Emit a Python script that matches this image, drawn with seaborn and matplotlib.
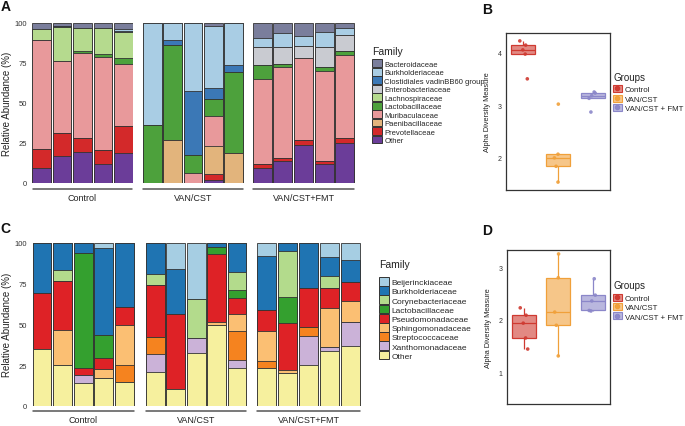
import numpy as np
import pandas as pd
import matplotlib
matplotlib.use("Agg")
import matplotlib.pyplot as plt
import seaborn as sns
from matplotlib.patches import Patch
from matplotlib.lines import Line2D

W, H = 685, 427

groups = ["Control", "VAN/CST", "VAN/CST+FMT"]

# panel A -- five mice per group: Control, VAN/CST, VAN/CST+FMT
a_families = ["Bacteroidaceae", "Burkholderiaceae", "Clostidiales vadinBB60 group",
              "Enterobacteriaceae", "Lachnospiraceae", "Lactobacillaceae",
              "Muribaculaceae", "Paenibacillaceae", "Prevotellaceae", "Other"]
a_colors = ["#7a7e9c", "#a9cde4", "#3b78b6", "#c9cbd1", "#b5da8e", "#4da13c",
            "#e8999b", "#e2b47c", "#d3292a", "#6b3d99"]
a_bacteroidaceae = [3.5, 2.0, 3.3, 3.3, 4.0, 0, 0, 0, 1.7, 0, 9.6, 6.0, 8.3, 5.4, 3.1]
a_burkholderiaceae = [0, 0, 0, 0, 0.8, 63.7, 10.8, 42.7, 38.8, 26.3, 5.6, 8.8, 5.9, 9.8, 4.4]
a_clostidiales = [0, 0.7, 0, 0, 1.0, 0, 2.7, 39.9, 7.2, 4.6, 0, 0, 0, 0, 0]
a_enterobacteriaceae = [0, 0, 0, 0, 0, 0, 0, 0, 0, 0, 10.8, 10.8, 7.9, 12.5, 9.9]
a_lachnospiraceae = [7.3, 20.8, 14.4, 16.3, 15.9, 0, 0, 0, 0, 0, 0, 0, 0, 0, 0]
a_lactobacillaceae = [0, 0, 1.3, 1.4, 3.9, 36.3, 59.5, 11.4, 10.2, 50.4, 9.2, 2.1, 0, 2.5, 2.3]
a_muribaculaceae = [68.2, 45.5, 52.7, 58.2, 38.8, 0, 0, 6.0, 18.9, 0, 52.9, 56.9, 51.2, 56.0, 51.9]
a_paenibacillaceae = [0, 0, 0, 0, 0, 0, 27.0, 0, 17.8, 18.7, 0, 0, 0, 0, 0]
a_prevotellaceae = [11.8, 13.9, 9.1, 8.9, 17.1, 0, 0, 0, 3.3, 0, 2.5, 1.9, 2.9, 2.1, 3.1]
a_other = [9.2, 17.1, 19.2, 11.9, 18.5, 0, 0, 0, 2.1, 0, 9.4, 13.5, 23.8, 11.7, 25.3]
a_values = [a_bacteroidaceae, a_burkholderiaceae, a_clostidiales, a_enterobacteriaceae,
            a_lachnospiraceae, a_lactobacillaceae, a_muribaculaceae, a_paenibacillaceae,
            a_prevotellaceae, a_other]

# panel C -- second cohort
c_families = ["Beijerinckiaceae", "Burkholderiaceae", "Corynebacteriaceae",
              "Lactobacillaceae", "Pseudomonadaceae", "Sphingomonadaceae",
              "Streptococcaceae", "Xanthomonadaceae", "Other"]
c_colors = ["#a6cee3", "#1f74b2", "#b3db8c", "#34a02f", "#de2226", "#fbbf73",
            "#f5831f", "#cbb2d8", "#f6f09e"]
c_beijerinckiaceae = [0, 0, 0, 3.3, 0, 0, 16.0, 34.4, 0, 0, 7.8, 0, 0, 8.8, 10.5]
c_burkholderiaceae = [30.9, 16.6, 6.4, 53.5, 39.5, 19.1, 27.4, 0, 2.3, 18.0, 33.6, 4.7, 27.9, 11.7, 13.3]
c_corynebacteriaceae = [0, 6.6, 0, 0, 0, 6.7, 0, 24.2, 0, 11.1, 0, 28.5, 0, 7.0, 0]
c_lactobacillaceae = [0, 0, 70.6, 13.7, 0, 0, 0, 0, 4.7, 4.5, 0, 16.0, 0, 0, 0]
c_pseudomonadaceae = [34.3, 30.1, 3.9, 7.2, 10.7, 32.0, 46.4, 0, 41.4, 10.3, 12.7, 28.7, 23.5, 12.5, 11.7]
c_sphingomonadaceae = [0, 21.7, 0, 5.3, 24.6, 0, 0, 0, 2.0, 10.4, 18.6, 2.0, 0, 24.1, 13.3]
c_streptococcaceae = [0, 0, 0, 0, 10.9, 10.2, 0, 0, 0, 17.4, 4.3, 0, 5.6, 0, 0]
c_xanthomonadaceae = [0, 0, 5.4, 0, 0, 11.1, 0, 9.0, 0, 5.3, 0, 0, 17.8, 2.1, 14.3]
c_other = [34.8, 25.0, 13.7, 17.0, 14.3, 20.9, 10.2, 32.4, 49.6, 23.0, 23.0, 20.1, 25.2, 33.8, 36.9]
c_values = [c_beijerinckiaceae, c_burkholderiaceae, c_corynebacteriaceae, c_lactobacillaceae,
            c_pseudomonadaceae, c_sphingomonadaceae, c_streptococcaceae, c_xanthomonadaceae,
            c_other]

# panels B and D -- alpha diversity
alpha_groups = ["Control", "VAN/CST", "VAN/CST + FMT"]
alpha_colors = ["#cf3a31", "#f0a03a", "#8b87c9"]
b_control = [4.22, 4.14, 4.05, 3.97, 3.50]
b_van = [3.02, 2.07, 2.00, 1.84, 1.54]
b_fmt = [3.25, 3.23, 3.18, 3.13, 2.87]
d_control = [2.23, 2.09, 1.94, 1.66, 1.45]
d_van = [3.25, 2.80, 2.15, 1.90, 1.32]
d_fmt = [2.78, 2.47, 2.36, 2.18, 2.17]


def px_rect(x0, y0, x1, y1):
    return [x0 / W, 1 - y1 / H, (x1 - x0) / W, (y1 - y0) / H]


def to_long(families, values):
    rows = []
    for fam, vals in zip(families, values):
        for i, v in enumerate(vals):
            rows.append({"group": groups[i // 5], "sample": f"s{i % 5}",
                         "family": fam, "value": v})
    return pd.DataFrame(rows)


def stacked_panel(fig, df, families, colors, spans, y_top, y_bottom):
    for i, (group, (x0, x1)) in enumerate(zip(groups, spans)):
        ax = fig.add_axes(px_rect(x0, y_top, x1, y_bottom))
        wide = df[df.group == group].pivot(index="sample", columns="family", values="value")
        cum = wide[families[::-1]].cumsum(axis=1).reset_index()
        # draw from the top layer down so each lower layer covers the one above
        for fam, col in zip(families, colors):
            sns.barplot(data=cum, x="sample", y=fam, color=col, saturation=1, width=0.92,
                        edgecolor="#333333", linewidth=0.6, errorbar=None, ax=ax)
        ax.set_ylim(0, 100)
        ax.set_xlim(-0.5, 4.5)
        ax.set_xticks([])
        ax.set_xlabel("")
        ax.set_ylabel("")
        for s in ax.spines.values():
            s.set_visible(False)
        if i == 0:
            ax.set_yticks([0, 25, 50, 75, 100])
            ax.tick_params(axis="y", labelsize=5.5, length=2.5, width=0.6, pad=1,
                           colors="#333333")
        else:
            ax.set_yticks([])
        ax.plot([0.01, 0.99], [-0.035, -0.035], transform=ax.transAxes, color="#555555",
                lw=1.1, clip_on=False)
        ax.text(0.5, -0.06, group, transform=ax.transAxes, ha="center", va="top",
                fontsize=6.5, color="#222222")


def alpha_panel(fig, rect, values, ylim, yticks):
    ax = fig.add_axes(rect)
    df = pd.DataFrame({"group": np.repeat(alpha_groups, 5), "value": np.concatenate(values)})
    for g, c in zip(alpha_groups, alpha_colors):
        sns.boxplot(data=df[df.group == g], x="group", y="value", order=alpha_groups,
                    color=c, linecolor=c, saturation=1, width=0.7, linewidth=0.9,
                    showfliers=False, showcaps=False, ax=ax)
    for p in ax.patches:
        fc = p.get_facecolor()
        p.set_facecolor((fc[0], fc[1], fc[2], 0.6))
    np.random.seed(7)
    sns.stripplot(data=df, x="group", y="value", hue="group", order=alpha_groups,
                  hue_order=alpha_groups, palette=alpha_colors, jitter=0.12, size=2.6,
                  alpha=0.9, legend=False, ax=ax)
    ax.set_xlim(-0.5, 2.5)
    ax.set_ylim(*ylim)
    ax.set_yticks(yticks)
    ax.set_xticks([])
    ax.set_xlabel("")
    ax.set_ylabel("Alpha Diversity Measure", fontsize=5.3, color="#222222")
    ax.yaxis.set_label_coords(-0.14, 0.5)
    ax.tick_params(axis="y", labelsize=5, length=2, width=0.6, pad=1, colors="#333333")
    for s in ax.spines.values():
        s.set_visible(True)
        s.set_color("#333333")
        s.set_linewidth(0.9)


def family_legend(fig, families, colors, x, y_title, y_first, fontsize, row_px):
    fig.text(x / W, 1 - y_title / H, "Family", fontsize=7.5, va="center", ha="left",
             color="#222222")
    handles = [Patch(facecolor=c, edgecolor="#333333", linewidth=0.7) for c in colors]
    fs_px = fontsize * 100 / 72
    fig.legend(handles, families, loc="upper left",
               bbox_to_anchor=(x / W, 1 - (y_first - row_px / 2) / H),
               frameon=False, fontsize=fontsize, borderpad=0, borderaxespad=0,
               labelspacing=0, handlelength=10 / fs_px, handleheight=row_px / fs_px,
               handletextpad=0.3)


def group_legend(fig, x, y_title, y_first):
    fig.text(x / W, 1 - y_title / H, "Groups", fontsize=7, va="center", ha="left",
             color="#222222")
    handles = []
    for c in alpha_colors:
        box = Patch(facecolor=matplotlib.colors.to_rgba(c, 0.6), edgecolor=c, linewidth=0.8)
        dot = Line2D([], [], marker="o", color=c, ls="", markersize=3)
        handles.append((box, dot))
    fig.legend(handles, alpha_groups, loc="upper left",
               bbox_to_anchor=(x / W, 1 - (y_first - 4.5) / H),
               frameon=False, fontsize=5.7, borderpad=0, borderaxespad=0,
               labelspacing=0.15, handlelength=1.1, handleheight=1.0, handletextpad=0.4)


sns.set_style("white")
plt.rcParams["font.family"] = ["Liberation Sans", "DejaVu Sans"]

fig = plt.figure(figsize=(W / 100, H / 100), dpi=100)

df_a = to_long(a_families, a_values)
df_c = to_long(c_families, c_values)

stacked_panel(fig, df_a, a_families, a_colors,
              [(31.5, 133.5), (142, 244), (252, 355)], 24, 184)
stacked_panel(fig, df_c, c_families, c_colors,
              [(31.7, 134.7), (145, 247.3), (256, 361)], 244, 406.7)

fig.text(7 / W, 1 - 104 / H, "Relative Abundance (%)", rotation=90, fontsize=7,
         ha="center", va="center", color="#222222")
fig.text(7 / W, 1 - 325 / H, "Relative Abundance (%)", rotation=90, fontsize=7,
         ha="center", va="center", color="#222222")

family_legend(fig, a_families, a_colors, 372, 51.7, 65, 5.5, 9.07)
family_legend(fig, c_families, c_colors, 379, 265, 283.3, 6, 10.3)

alpha_panel(fig, px_rect(506, 34, 610, 191), [b_control, b_van, b_fmt], (1.39, 4.37), [2, 3, 4])
alpha_panel(fig, px_rect(506.5, 250.7, 610, 405), [d_control, d_van, d_fmt], (0.41, 3.33), [1, 2, 3])

group_legend(fig, 613, 78, 90.7)
group_legend(fig, 613, 285.7, 299)

for letter, x, y in [("A", 6, 7), ("B", 487, 10), ("C", 5.5, 229), ("D", 487, 231)]:
    fig.text(x / W, 1 - y / H, letter, fontsize=10, fontweight="bold", ha="center",
             va="center", color="#111111")

fig.savefig("out.png", dpi=100)
